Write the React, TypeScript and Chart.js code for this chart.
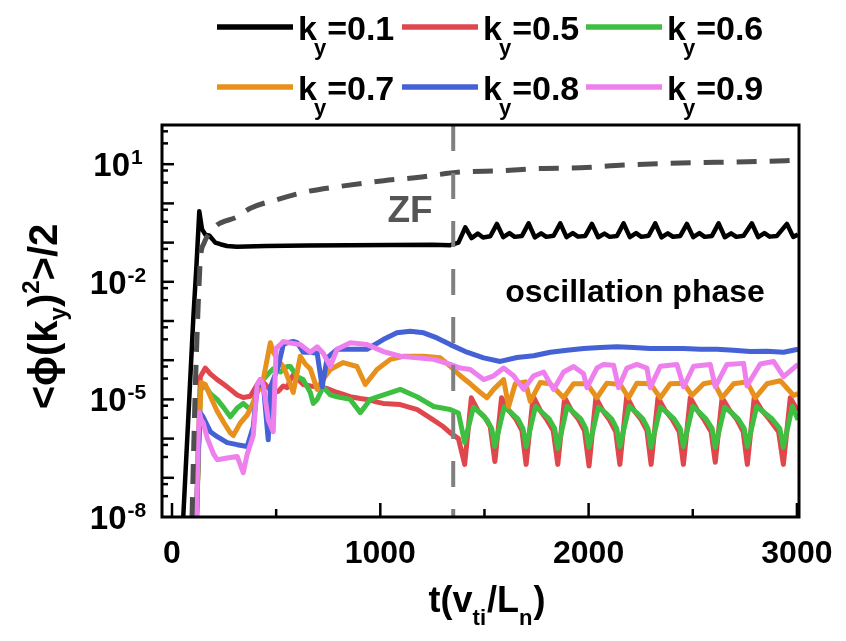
import React, { useEffect, useRef } from "react";
import { Chart, registerables } from "chart.js";

Chart.register(...registerables);

// ---------------- data ----------------
const tK01 = [
  54, 78, 102, 118, 131, 144, 160, 180, 208, 232, 264, 312, 450, 650, 850, 1050, 1250, 1336, 1375,
  1408, 1438, 1468, 1493, 1528,
  1560, 1590, 1620, 1645, 1680,
  1712, 1742, 1772, 1797, 1832,
  1864, 1894, 1924, 1949, 1984,
  2016, 2046, 2076, 2101, 2136,
  2168, 2198, 2228, 2253, 2288,
  2320, 2350, 2380, 2405, 2440,
  2472, 2502, 2532, 2557, 2592,
  2624, 2654, 2684, 2709, 2744,
  2784, 2814, 2844, 2869, 2904,
  2952, 2982, 3005,
];
const vK01 = [
  1e-8, 3.2e-6, 1.1e-3, 3.0e-2, 0.63, 0.22, 0.16, 0.15, 0.1, 0.091, 0.082, 0.078, 0.082, 0.084, 0.086, 0.087, 0.088, 0.086, 0.1,
  0.245, 0.13, 0.17, 0.135, 0.145,
  0.3, 0.138, 0.175, 0.14, 0.148,
  0.31, 0.136, 0.172, 0.14, 0.15,
  0.31, 0.138, 0.175, 0.142, 0.148,
  0.3, 0.137, 0.17, 0.14, 0.147,
  0.31, 0.138, 0.175, 0.14, 0.15,
  0.31, 0.136, 0.172, 0.141, 0.148,
  0.3, 0.138, 0.175, 0.14, 0.148,
  0.31, 0.137, 0.172, 0.14, 0.15,
  0.31, 0.138, 0.175, 0.142, 0.148,
  0.3, 0.14, 0.16,
];

const tK05 = [
  118, 128, 136, 160, 184, 217, 250, 280, 313, 342, 376, 409, 424, 445, 462, 486, 510, 534, 553, 568, 582, 601, 630, 664, 697, 745, 793, 856, 904, 937, 985, 1014, 1096, 1178, 1254, 1303, 1336, 1375,
  1405, 1437, 1470, 1500, 1528,
  1550, 1582, 1620, 1650, 1680,
  1700, 1734, 1770, 1800, 1830,
  1852, 1885, 1920, 1950, 1980,
  2002, 2035, 2070, 2100, 2130,
  2150, 2183, 2220, 2250, 2280,
  2300, 2333, 2370, 2400, 2435,
  2455, 2488, 2525, 2555, 2588,
  2608, 2641, 2680, 2710, 2742,
  2762, 2795, 2835, 2870, 2912,
  2935, 2968, 3005,
];
const vK05 = [
  1e-8, 1e-6, 3.8e-5, 6.3e-5, 4.5e-5, 3.2e-5, 2.4e-5, 1.8e-5, 1.3e-5, 1.12e-5, 1.2e-5, 2.4e-5, 3.2e-5, 2.5e-5, 2.0e-5, 1.5e-5, 1.6e-5, 2.2e-5, 2.0e-5, 3.2e-5, 4.2e-5, 3.4e-5, 2.4e-5, 2.2e-5, 2.1e-5, 1.9e-5, 1.5e-5, 1.17e-5, 1.05e-5, 1.0e-5, 8.5e-6, 7.9e-6, 7.4e-6, 5.5e-6, 3.0e-6, 2.0e-6, 1.4e-6, 1.0e-6,
  2.2e-7, 1.1e-5, 5e-6, 3.6e-6, 2.0e-6,
  2.6e-7, 1.1e-5, 5e-6, 3.2e-6, 1.6e-6,
  2.2e-7, 1.2e-5, 5e-6, 3e-6, 1.6e-6,
  2.2e-7, 1.1e-5, 5e-6, 3.2e-6, 1.6e-6,
  2.0e-7, 1.1e-5, 5e-6, 3e-6, 1.5e-6,
  2.2e-7, 1.2e-5, 5e-6, 3.2e-6, 1.6e-6,
  2.2e-7, 1.1e-5, 5e-6, 3.2e-6, 1.5e-6,
  2.2e-7, 1.1e-5, 5e-6, 3e-6, 1.5e-6,
  2.5e-7, 1.1e-5, 5e-6, 3.2e-6, 1.5e-6,
  2.2e-7, 1.1e-5, 5e-6, 3e-6, 1.5e-6,
  2.2e-7, 1.1e-5, 5e-6,
];

const tK06 = [
  118, 128, 136, 160, 184, 217, 250, 280, 313, 342, 376, 409, 438, 462, 486, 520, 553, 568, 601, 630, 664, 678, 697, 726, 760, 792, 856, 904, 952, 1016, 1096, 1176, 1256, 1336, 1375,
  1405, 1447, 1480, 1512, 1535,
  1550, 1595, 1630, 1660, 1685,
  1700, 1745, 1780, 1810, 1837,
  1852, 1897, 1932, 1962, 1987,
  2002, 2047, 2082, 2112, 2135,
  2150, 2195, 2230, 2260, 2285,
  2300, 2345, 2380, 2410, 2440,
  2455, 2500, 2535, 2565, 2593,
  2608, 2653, 2688, 2718, 2747,
  2762, 2807, 2845, 2880, 2918,
  2935, 2978, 3005,
];
const vK06 = [
  1e-8, 5e-7, 1.8e-5, 2.2e-5, 1.4e-5, 1.0e-5, 6e-6, 3.6e-6, 6e-6, 7.9e-6, 5.5e-6, 1.5e-5, 3.2e-5, 4.5e-5, 6e-5, 5e-5, 6.9e-5, 6.9e-5, 3.8e-5, 3.2e-5, 1.5e-5, 7.9e-6, 1.0e-5, 2.1e-5, 1.3e-5, 1.17e-5, 1.0e-5, 4.6e-6, 1.0e-5, 1.3e-5, 1.8e-5, 1.17e-5, 6.6e-6, 5.5e-6, 4.5e-6,
  8e-7, 6.3e-6, 4.5e-6, 3e-6, 1.8e-6,
  6.3e-7, 6.5e-6, 4.5e-6, 3.2e-6, 1.8e-6,
  6.3e-7, 6.6e-6, 4.5e-6, 3.2e-6, 1.8e-6,
  5.6e-7, 6.6e-6, 4.5e-6, 3.2e-6, 1.8e-6,
  6e-7, 6.3e-6, 4.5e-6, 3.1e-6, 1.8e-6,
  6.3e-7, 6.6e-6, 4.6e-6, 3.2e-6, 1.8e-6,
  6e-7, 6.3e-6, 4.5e-6, 3.2e-6, 1.8e-6,
  6.3e-7, 6.6e-6, 4.5e-6, 3.1e-6, 1.8e-6,
  6e-7, 6.3e-6, 4.5e-6, 3.2e-6, 1.8e-6,
  6.3e-7, 6.6e-6, 4.5e-6, 3.2e-6, 1.8e-6,
  6e-7, 6.6e-6, 3e-6,
];

const tK07 = [
  118, 128, 140, 160, 184, 217, 250, 280, 294, 328, 361, 390, 409, 438, 472, 486, 510, 534, 553, 582, 616, 640, 664, 697, 720, 760, 822, 888, 928, 984, 1048, 1112, 1208, 1288, 1336,
  1384, 1432, 1480, 1512, 1544, 1592, 1616, 1648, 1696, 1720, 1768, 1816, 1880, 1928, 1992,
  2040, 2088, 2152, 2192, 2232, 2296, 2344, 2392, 2456, 2496, 2552, 2600, 2640, 2696, 2760, 2800, 2856, 2920, 2984, 3005,
];
const vK07 = [
  1e-8, 8e-7, 2.7e-5, 2.4e-5, 1.2e-5, 5e-6, 2.5e-6, 1.4e-6, 1.2e-6, 2.5e-6, 4e-6, 8e-6, 1.5e-5, 3.2e-5, 2.8e-4, 1.6e-4, 1.0e-4, 6.9e-5, 4.0e-5, 1.5e-5, 1.26e-4, 8e-5, 6e-5, 1.8e-5, 3e-5, 5.8e-5, 8.7e-5, 6.9e-5, 2.4e-5, 5.8e-5, 1.05e-4, 1.26e-4, 1.26e-4, 1.15e-4, 7e-5,
  4e-5, 2.5e-5, 1.5e-5, 1.1e-5, 1.8e-5, 3.2e-5, 6.6e-6, 2.5e-5, 2.8e-5, 8.9e-6, 2.7e-5, 2.5e-5, 1.1e-5, 2.5e-5, 2.5e-5,
  1.1e-5, 2.6e-5, 2.4e-5, 1.1e-5, 2.6e-5, 2.5e-5, 1.1e-5, 2.5e-5, 2.6e-5, 1.26e-5, 2.5e-5, 2.8e-5, 1.1e-5, 2.5e-5, 2.8e-5, 1.1e-5, 2.5e-5, 3e-5, 1.26e-5, 1.4e-5,
];

const tK08 = [
  118, 126, 136, 150, 184, 217, 265, 313, 361, 390, 409, 438, 462, 472, 510, 534, 553, 582, 601, 630, 664, 697, 721, 745, 792, 856, 936, 1016, 1080, 1144, 1208, 1272, 1336,
  1416, 1496, 1576, 1656, 1736, 1816, 1896, 1976, 2056, 2136, 2216, 2296, 2376, 2456, 2536, 2616, 2696, 2776, 2856, 2936, 3005,
];
const vK08 = [
  1e-8, 5e-7, 4.5e-6, 3.5e-6, 1.5e-6, 1.12e-6, 7.9e-7, 7e-7, 6.3e-7, 2e-6, 2.1e-5, 2.5e-5, 9.3e-7, 2e-5, 6.9e-5, 2.5e-4, 2.8e-4, 3.0e-4, 2.8e-4, 1.6e-4, 1.6e-4, 1.5e-4, 2.1e-5, 1.15e-4, 1.9e-4, 1.9e-4, 1.9e-4, 3.4e-4, 5.0e-4, 5.5e-4, 5.0e-4, 3.7e-4, 2.5e-4,
  1.6e-4, 1.15e-4, 9.3e-5, 1.17e-4, 1.3e-4, 1.6e-4, 1.8e-4, 2.0e-4, 2.1e-4, 2.2e-4, 2.1e-4, 2.0e-4, 2.0e-4, 2.0e-4, 1.9e-4, 1.9e-4, 1.8e-4, 1.66e-4, 1.7e-4, 1.6e-4, 1.9e-4,
];

const tK09 = [
  118, 126, 132, 140, 150, 170, 200, 217, 265, 313, 342, 361, 390, 409, 424, 438, 462, 486, 500, 520, 534, 560, 616, 640, 664, 697, 726, 760, 792, 856, 936, 1016, 1096, 1176, 1256, 1336,
  1384, 1432, 1496, 1544, 1592, 1640, 1688, 1736, 1784, 1832, 1880, 1928, 1976, 1992,
  2040, 2072, 2120, 2144, 2184, 2232, 2280, 2296, 2344, 2424, 2456, 2504, 2584, 2608, 2664, 2744, 2760, 2824, 2888, 2936, 3005,
];
const vK09 = [
  1e-8, 1e-6, 4.6e-6, 3e-6, 2.5e-6, 1e-6, 4e-7, 2.9e-7, 3.2e-7, 3.5e-7, 1.35e-7, 4e-7, 1.2e-6, 2.4e-5, 3.2e-5, 2.4e-5, 3e-6, 1.5e-6, 2e-4, 2.5e-4, 3.0e-4, 2.8e-4, 2.5e-4, 2.0e-4, 1.6e-4, 2.2e-4, 1.5e-4, 6.9e-5, 1.9e-4, 2.8e-4, 2.5e-4, 1.66e-4, 1.26e-4, 1.15e-4, 1.05e-4, 7.8e-5,
  6.3e-5, 5.8e-5, 3.2e-5, 4e-5, 6.3e-5, 4e-5, 1.8e-5, 4e-5, 5e-5, 1.8e-5, 5e-5, 6.9e-5, 4.5e-5, 2e-5,
  6.3e-5, 7.8e-5, 7.4e-5, 2e-5, 6.3e-5, 7.8e-5, 6.3e-5, 2e-5, 7e-5, 7.8e-5, 2.1e-5, 7e-5, 7.8e-5, 2.1e-5, 7.8e-5, 8.3e-5, 2.2e-5, 8e-5, 9.3e-5, 3.8e-5, 7.8e-5,
];

// zonal flow (dashed)
const tZF = [96, 112, 120, 128, 136, 155, 175, 216, 312, 376, 504, 648, 824, 1016, 1176, 1384, 1576, 1768, 1960, 2168, 2392, 2616, 2824, 3005];
const vZF = [1e-8, 2.1e-5, 4e-4, 5e-3, 3.7e-2, 0.1, 0.16, 0.28, 0.45, 0.75, 1.25, 2.0, 2.8, 3.8, 4.6, 6.3, 6.8, 7.8, 8.1, 9.5, 10.5, 11.2, 11.7, 12.6];

// phase boundary (vertical dashed)
const tPhase = [1350, 1350];
const vPhase = [100, 1e-8];

// axes
const xMin = -48;
const xMax = 3010;
const yMin = 1e-8;
const yMax = 100;
const xMajorTicks = [0, 1000, 2000, 3000];
const xTickLabels = ["0", "1000", "2000", "3000"];
const xMinorTicks = [500, 1500, 2500];
const yDecadeTicks = [1e-7, 1e-6, 1e-5, 1e-4, 1e-3, 1e-2, 1e-1, 1, 10];
const yMinorTicks = [
  6.9e-8, 3.4e-8, 6.9e-7, 3.4e-7, 6.9e-6, 3.4e-6, 6.9e-5, 3.4e-5, 6.9e-4, 3.4e-4,
  6.9e-3, 3.4e-3, 6.9e-2, 3.4e-2, 0.69, 0.34, 6.9, 3.4, 69, 34,
];
const yLabelTicks = [10, 1e-2, 1e-5, 1e-8];
const yLabelExps = ["1", "-2", "-5", "-8"];

// legend
const legendKy = ["0.1", "0.5", "0.6", "0.7", "0.8", "0.9"];
const seriesColors = ["#000000", "#e0474c", "#3fbf42", "#e8901c", "#4561d6", "#ee80ee"];

const FONT = '"Liberation Sans", Arial, Helvetica, sans-serif';

type Part = { t: string; size: number; dy?: number; dx?: number };

function partsWidth(ctx: CanvasRenderingContext2D, parts: Part[]) {
  let w = 0;
  for (const p of parts) {
    ctx.font = `bold ${p.size}px ${FONT}`;
    w += (p.dx || 0) + ctx.measureText(p.t).width;
  }
  return w;
}

function drawParts(ctx: CanvasRenderingContext2D, parts: Part[], x: number, y: number) {
  let cx = x;
  for (const p of parts) {
    ctx.font = `bold ${p.size}px ${FONT}`;
    cx += p.dx || 0;
    ctx.fillText(p.t, cx, y + (p.dy || 0));
    cx += ctx.measureText(p.t).width;
  }
}

const overlayPlugin = {
  id: "overlay",
  afterDraw(chart: any) {
    const { ctx, chartArea: a } = chart;
    const xs = chart.scales.x;
    const ys = chart.scales.y;
    ctx.save();
    ctx.fillStyle = "#000";
    ctx.strokeStyle = "#000";
    ctx.textAlign = "left";
    ctx.textBaseline = "alphabetic";

    // inward ticks
    ctx.lineWidth = 2.5;
    ctx.lineCap = "butt";
    const tick = (x1: number, y1: number, x2: number, y2: number) => {
      ctx.beginPath();
      ctx.moveTo(x1, y1);
      ctx.lineTo(x2, y2);
      ctx.stroke();
    };
    for (const v of xMajorTicks) {
      const px = xs.getPixelForValue(v);
      tick(px, a.bottom, px, a.bottom - 14);
    }
    for (const v of xMinorTicks) {
      const px = xs.getPixelForValue(v);
      tick(px, a.bottom, px, a.bottom - 8);
    }
    for (const v of yDecadeTicks) {
      const py = ys.getPixelForValue(v);
      tick(a.left, py, a.left + 12, py);
    }
    for (const v of yMinorTicks) {
      const py = ys.getPixelForValue(v);
      tick(a.left, py, a.left + 6, py);
    }

    // frame
    ctx.lineWidth = 3;
    ctx.strokeRect(a.left, a.top, a.right - a.left, a.bottom - a.top);

    // x tick labels
    ctx.font = `bold 32px ${FONT}`;
    ctx.textAlign = "center";
    xMajorTicks.forEach((v, i) => {
      ctx.fillText(xTickLabels[i], xs.getPixelForValue(v), 555);
    });
    ctx.textAlign = "left";

    // y tick labels with superscripts
    yLabelTicks.forEach((v, i) => {
      const py = ys.getPixelForValue(v);
      const parts: Part[] = [
        { t: "10", size: 33 },
        { t: yLabelExps[i], size: 21, dy: -12, dx: 1 },
      ];
      const w = partsWidth(ctx, parts);
      drawParts(ctx, parts, 110 - w / 2, py + 12);
    });

    // x title
    const xt: Part[] = [
      { t: "t(v", size: 36 },
      { t: "ti", size: 22, dy: 13 },
      { t: "/L", size: 36, dx: 1 },
      { t: "n", size: 22, dy: 13 },
      { t: ")", size: 36, dx: 1 },
    ];
    const xtw = partsWidth(ctx, xt);
    drawParts(ctx, xt, 479 - xtw / 2, 604);

    // y title (rotated)
    const yt: Part[] = [
      { t: "<\u03D5(k", size: 40 },
      { t: "y", size: 24, dy: 9 },
      { t: ")", size: 40 },
      { t: "2", size: 24, dy: -18 },
      { t: ">/2", size: 40 },
    ];
    ctx.save();
    ctx.translate(49, 308.5);
    ctx.rotate(-Math.PI / 2);
    const ytw = partsWidth(ctx, yt);
    drawParts(ctx, yt, -ytw / 2, 0);
    ctx.restore();

    // legend
    const colX = [209, 394, 578];
    const rowY = [19, 79];
    legendKy.forEach((k, i) => {
      const lx = colX[i % 3];
      const ly = rowY[Math.floor(i / 3)];
      ctx.strokeStyle = seriesColors[i];
      ctx.lineWidth = 5.5;
      ctx.beginPath();
      ctx.moveTo(lx, ly);
      ctx.lineTo(lx + 76, ly);
      ctx.stroke();
      ctx.fillStyle = "#000";
      drawParts(
        ctx,
        [
          { t: "k", size: 34 },
          { t: "y", size: 22, dy: 15, dx: -3 },
          { t: "=" + k, size: 34, dx: 1 },
        ],
        lx + 81,
        ly + 13
      );
    });

    // annotations
    ctx.fillStyle = "#555555";
    ctx.font = `bold 37px ${FONT}`;
    ctx.textAlign = "center";
    ctx.fillText("ZF", 402, 214);
    ctx.fillStyle = "#000";
    ctx.font = `bold 32px ${FONT}`;
    ctx.fillText("oscillation phase", 627, 294);

    ctx.restore();
  },
};

function pts(t: number[], v: number[]) {
  return t.map((x, i) => ({ x, y: v[i] }));
}

export default function App() {
  const ref = useRef<HTMLCanvasElement>(null);

  useEffect(() => {
    if (!ref.current) return;
    const lineDs = (label: string, t: number[], v: number[], color: string, width: number, extra: any = {}) => ({
      label,
      data: pts(t, v),
      borderColor: color,
      backgroundColor: color,
      borderWidth: width,
      pointRadius: 0,
      fill: false,
      tension: 0,
      borderJoinStyle: "round",
      ...extra,
    });
    const datasets = [
      lineDs("phase boundary", tPhase, vPhase, "#808080", 4, { borderDash: [26, 22] }),
      lineDs("ZF", tZF, vZF, "#4f4f4f", 5, { borderDash: [20, 13], cubicInterpolationMode: "monotone" }),
      lineDs("ky=0.9", tK09, vK09, seriesColors[5], 5),
      lineDs("ky=0.8", tK08, vK08, seriesColors[4], 5),
      lineDs("ky=0.7", tK07, vK07, seriesColors[3], 5),
      lineDs("ky=0.6", tK06, vK06, seriesColors[2], 5),
      lineDs("ky=0.5", tK05, vK05, seriesColors[1], 5),
      lineDs("ky=0.1", tK01, vK01, seriesColors[0], 4.5),
    ];
    const chart = new Chart(ref.current, {
      type: "line",
      data: { datasets } as any,
      options: {
        responsive: false,
        animation: false,
        events: [],
        layout: { padding: { top: 117, right: 39, left: 0, bottom: 0 } },
        plugins: { legend: { display: false }, tooltip: { enabled: false } },
        scales: {
          x: {
            type: "linear",
            min: xMin,
            max: xMax,
            grid: { display: false },
            border: { display: false },
            ticks: { display: false },
            afterFit: (s: any) => {
              s.height = 116;
            },
          },
          y: {
            type: "logarithmic",
            min: yMin,
            max: yMax,
            grid: { display: false },
            border: { display: false },
            ticks: { display: false },
            afterFit: (s: any) => {
              s.width = 154;
            },
          },
        },
      } as any,
      plugins: [overlayPlugin as any],
    });
    return () => chart.destroy();
  }, []);

  return (
    <canvas
      ref={ref}
      width={830}
      height={625}
      style={{ display: "block", width: 830, height: 625 }}
    />
  );
}
